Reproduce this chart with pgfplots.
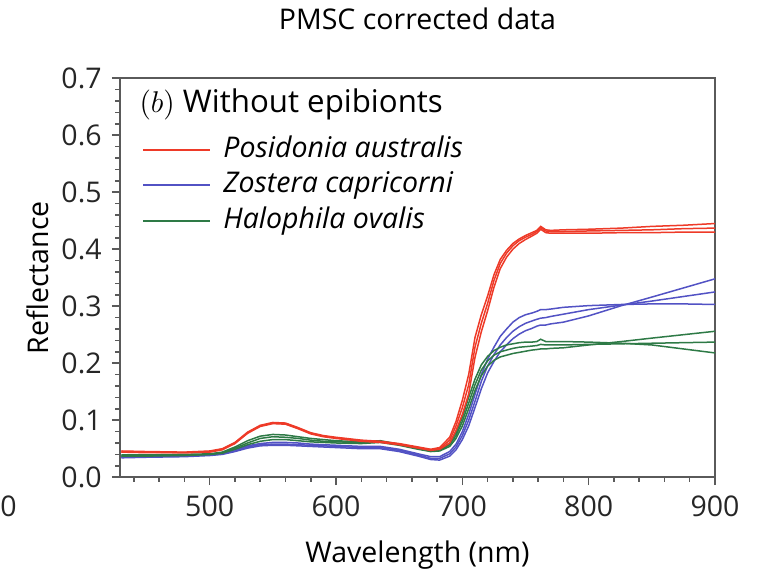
\documentclass[border=0pt]{standalone}
\usepackage{fontspec}
\setmainfont{Open Sans}
\usepackage{pgfplots}
\pgfplotsset{compat=1.18}
\usetikzlibrary{calc}
\definecolor{cred}{RGB}{238,58,40}
\definecolor{cblue}{RGB}{82,82,196}
\definecolor{cgreen}{RGB}{46,122,70}
\definecolor{spine}{RGB}{90,90,90}
\newcommand{\fs}{\fontsize{11.4}{13.5}\selectfont}

\pgfplotstableread{
w     r1     r2     r3     g1     g2     g3     b1     b2     b3
430   0.046  0.045  0.044  0.039  0.038  0.037  0.036  0.035  0.034
450   0.045  0.044  0.043  0.039  0.038  0.037  0.037  0.036  0.035
480   0.044  0.043  0.043  0.040  0.039  0.038  0.038  0.037  0.036
500   0.046  0.045  0.044  0.041  0.040  0.040  0.040  0.039  0.038
510   0.050  0.049  0.048  0.044  0.043  0.042  0.042  0.041  0.040
520   0.061  0.060  0.059  0.053  0.051  0.049  0.048  0.046  0.045
530   0.079  0.078  0.077  0.064  0.060  0.057  0.055  0.053  0.051
540   0.091  0.090  0.089  0.072  0.068  0.063  0.059  0.057  0.055
550   0.096  0.095  0.094  0.075  0.071  0.066  0.061  0.058  0.056
560   0.095  0.094  0.093  0.074  0.070  0.066  0.061  0.058  0.056
570   0.087  0.086  0.085  0.071  0.068  0.064  0.060  0.057  0.055
580   0.078  0.077  0.076  0.068  0.065  0.062  0.058  0.056  0.054
590   0.073  0.072  0.071  0.066  0.063  0.061  0.057  0.055  0.053
600   0.070  0.069  0.068  0.064  0.062  0.060  0.056  0.054  0.052
620   0.065  0.064  0.063  0.062  0.061  0.059  0.054  0.052  0.050
635   0.063  0.062  0.061  0.064  0.063  0.061  0.054  0.052  0.050
650   0.059  0.058  0.057  0.058  0.057  0.056  0.049  0.047  0.045
665   0.053  0.052  0.051  0.050  0.050  0.049  0.041  0.039  0.037
675   0.049  0.048  0.047  0.046  0.046  0.045  0.036  0.033  0.031
682   0.052  0.050  0.049  0.048  0.047  0.046  0.036  0.033  0.030
690   0.070  0.065  0.060  0.060  0.057  0.054  0.045  0.041  0.037
695   0.098  0.090  0.082  0.078  0.073  0.068  0.058  0.053  0.048
700   0.135  0.122  0.110  0.105  0.098  0.090  0.080  0.073  0.066
705   0.180  0.162  0.146  0.140  0.130  0.120  0.110  0.100  0.090
710   0.245  0.228  0.210  0.172  0.162  0.152  0.145  0.133  0.122
715   0.285  0.270  0.255  0.197  0.188  0.178  0.180  0.168  0.155
720   0.318  0.305  0.292  0.212  0.204  0.195  0.207  0.195  0.183
725   0.355  0.345  0.333  0.222  0.214  0.205  0.228  0.215  0.203
730   0.382  0.375  0.366  0.228  0.220  0.211  0.247  0.232  0.220
735   0.398  0.393  0.386  0.232  0.223  0.214  0.260  0.245  0.232
740   0.410  0.406  0.400  0.234  0.226  0.217  0.272  0.256  0.243
745   0.418  0.415  0.410  0.236  0.228  0.219  0.280  0.264  0.251
750   0.424  0.421  0.417  0.237  0.229  0.221  0.285  0.270  0.257
755   0.429  0.426  0.423  0.237  0.230  0.223  0.288  0.274  0.261
759   0.433  0.431  0.428  0.238  0.231  0.224  0.291  0.277  0.265
762   0.440  0.438  0.435  0.242  0.233  0.225  0.294  0.279  0.267
766   0.434  0.432  0.429  0.238  0.232  0.225  0.294  0.280  0.267
770   0.433  0.431  0.428  0.238  0.232  0.226  0.295  0.282  0.269
780   0.434  0.431  0.428  0.238  0.232  0.227  0.298  0.286  0.272
800   0.435  0.432  0.428  0.237  0.233  0.232  0.301  0.294  0.283
826   0.437  0.433  0.429  0.235  0.234  0.238  0.303  0.302  0.301
850   0.440  0.434  0.429  0.232  0.235  0.244  0.304  0.309  0.316
875   0.442  0.436  0.430  0.225  0.236  0.250  0.304  0.317  0.332
900   0.445  0.437  0.430  0.218  0.237  0.256  0.303  0.325  0.348
}\spectra

\begin{document}
\begin{tikzpicture}
\begin{axis}[
  name=ax,
  scale only axis,
  width=238pt, height=159.6pt,
  xmin=429, xmax=900, ymin=0, ymax=0.7,
  axis line style={spine, line width=0.6pt},
  every tick/.style={spine, line width=0.6pt},
  tick align=outside,
  xtick pos=bottom, ytick pos=left,
  major tick length=3.2pt, minor tick length=1.8pt,
  xtick={500,600,700,800,900},
  minor xtick={440,460,480,520,540,560,580,620,640,660,680,720,740,760,780,820,840,860,880},
  ytick={0,0.1,0.2,0.3,0.4,0.5,0.6,0.7},
  minor ytick={0.02,0.04,0.06,0.08,0.12,0.14,0.16,0.18,0.22,0.24,0.26,0.28,0.32,0.34,0.36,0.38,0.42,0.44,0.46,0.48,0.52,0.54,0.56,0.58,0.62,0.64,0.66,0.68},
  y tick label style={/pgf/number format/fixed, /pgf/number format/fixed zerofill, /pgf/number format/precision=1, anchor=east, xshift=-0.6pt},
  /pgf/number format/assume math mode=true,
  scaled y ticks=false,
  ticklabel style={font=\fs, text=black!85},
  x tick label style={anchor=center, yshift=-8.4pt},
  title={PMSC corrected data},
  title style={at={(0.5,1.11)}, anchor=center, font=\fs},
  xlabel={Wavelength (nm)},
  xlabel style={at={(0.5,-0.195)}, anchor=center, font=\fs},
  ylabel={Reflectance},
  ylabel style={at={(-0.138,0.5)}, anchor=center, font=\fs},
  legend style={at={(0.0365,0.863)}, anchor=north west, draw=none, fill=none,
    inner sep=0pt, column sep=5.2pt, row sep=1.1pt,
    font=\fs\itshape,
    nodes={inner xsep=0pt, inner ysep=1pt, text height=8.6pt, text depth=2.5pt}},
  legend cell align=left,
  every axis plot/.append style={line width=0.6pt},
]
\addlegendimage{legend image code/.code={\draw[cred, line width=0.7pt] (0pt,0pt) -- (26.6pt,0pt);}}
\addlegendentry{Posidonia australis}
\addlegendimage{legend image code/.code={\draw[cblue, line width=0.7pt] (0pt,0pt) -- (26.6pt,0pt);}}
\addlegendentry{Zostera capricorni}
\addlegendimage{legend image code/.code={\draw[cgreen, line width=0.7pt] (0pt,0pt) -- (26.6pt,0pt);}}
\addlegendentry{Halophila ovalis}
\addplot[cblue, no markers, forget plot] table[x=w, y=b1] {\spectra};
\addplot[cblue, no markers, forget plot] table[x=w, y=b2] {\spectra};
\addplot[cblue, no markers, forget plot] table[x=w, y=b3] {\spectra};
\addplot[cgreen, no markers, forget plot] table[x=w, y=g1] {\spectra};
\addplot[cgreen, no markers, forget plot] table[x=w, y=g2] {\spectra};
\addplot[cgreen, no markers, forget plot] table[x=w, y=g3] {\spectra};
\addplot[cred, no markers, forget plot] table[x=w, y=r1] {\spectra};
\addplot[cred, no markers, forget plot] table[x=w, y=r2] {\spectra};
\addplot[cred, no markers, forget plot] table[x=w, y=r3] {\spectra};
\node[anchor=west, font=\fontsize{12.5}{14}\selectfont] at (axis description cs:0.018,0.934) {$(b)$ Without epibionts};
\end{axis}
\node[anchor=west, inner sep=0pt, font=\fs, text=black!85] at ($(ax.south west)+(-48pt,-11.6pt)$) {0};
\path ($(ax.south west)+(-48pt,-37.2pt)$) rectangle ($(ax.north east)+(21.6pt,28.8pt)$);
\end{tikzpicture}
\end{document}
